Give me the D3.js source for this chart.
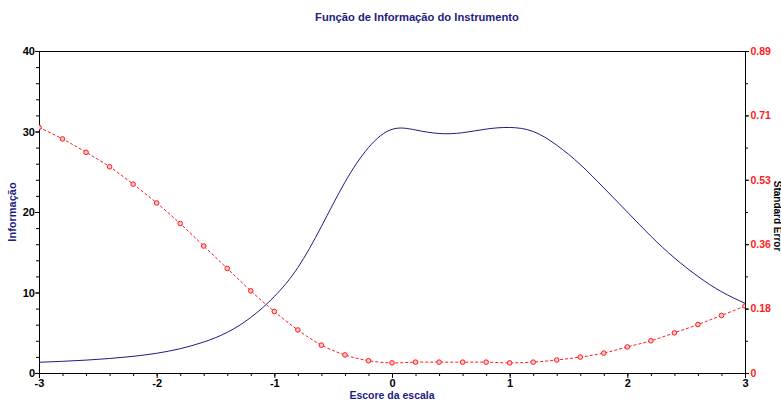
<!DOCTYPE html>
<html>
<head>
<meta charset="utf-8">
<script src="https://cdn.jsdelivr.net/npm/d3@7"></script>
<style>
  html, body { margin: 0; padding: 0; background: #fff; }
  svg { display: block; font-family: "Liberation Sans", Arial, sans-serif; }
</style>
</head>
<body>
<svg id="chart" width="781" height="402"></svg>
<script>
// Escore (theta) grid, step 0.2
const theta = [-3.0, -2.8, -2.6, -2.4, -2.2, -2.0, -1.8, -1.6, -1.4, -1.2, -1.0,
               -0.8, -0.6, -0.4, -0.2, 0.0, 0.2, 0.4, 0.6, 0.8, 1.0,
               1.2, 1.4, 1.6, 1.8, 2.0, 2.2, 2.4, 2.6, 2.8, 3.0];

// Test information function
const information = [1.33, 1.45, 1.60, 1.80, 2.07, 2.45, 3.02, 3.85, 5.05, 6.90, 9.50,
                     13.1, 18.2, 23.7, 28.0, 30.27, 30.19, 29.75, 29.85, 30.30, 30.50,
                     30.00, 28.30, 25.90, 23.00, 20.00, 17.00, 14.30, 12.00, 10.10, 8.66];

// Standard error of measurement
const standardError = [0.679, 0.647, 0.610, 0.570, 0.522, 0.470, 0.413, 0.351, 0.289, 0.227, 0.170,
                       0.119, 0.077, 0.050, 0.034, 0.028, 0.030, 0.030, 0.030, 0.030, 0.028,
                       0.030, 0.036, 0.044, 0.055, 0.072, 0.089, 0.111, 0.134, 0.159, 0.185];

// Axis ticks
const xTicks = [-3, -2, -1, 0, 1, 2, 3];
const xMinorTicks = d3.range(-30, 31, 2).map(v => v / 10);
const infoTicks = [0, 10, 20, 30, 40];
const infoMinorTicks = d3.range(0, 41, 2);
const seTicks = [0, 0.178, 0.356, 0.534, 0.712, 0.89];
const seMinorTicks = d3.range(0, 11).map(k => k * 0.089);

const svg = d3.select("#chart");
const plotLeft = 39, plotRight = 745, plotTop = 51, plotBottom = 373;

const x = d3.scaleLinear().domain([-3, 3]).range([plotLeft, plotRight]);
const yInfo = d3.scaleLinear().domain([0, 40]).range([plotBottom, plotTop]);
const ySE = d3.scaleLinear().domain([0, 0.89]).range([plotBottom, plotTop]);

const navy = "#1c1c86";
const red = "#ff1a1a";

// Title
svg.append("text")
  .attr("x", 417).attr("y", 21)
  .attr("text-anchor", "middle")
  .attr("font-size", 11.2).attr("font-weight", "bold")
  .attr("fill", navy)
  .text("Função de Informação do Instrumento");

// Clip region for the plotted series
svg.append("clipPath").attr("id", "plot-clip")
  .append("rect")
  .attr("x", plotLeft).attr("y", plotTop)
  .attr("width", plotRight - plotLeft).attr("height", plotBottom - plotTop);

// Frame
svg.append("rect")
  .attr("x", plotLeft + 0.5).attr("y", plotTop + 0.5)
  .attr("width", plotRight - plotLeft).attr("height", plotBottom - plotTop)
  .attr("fill", "none").attr("stroke", "#000").attr("stroke-width", 1);

function styleAxis(g, color, size) {
  g.select(".domain").attr("stroke", "#000");
  g.selectAll(".tick line").attr("stroke", "#000");
  g.selectAll(".tick text")
    .attr("fill", color)
    .attr("font-size", size)
    .attr("font-weight", "bold")
    .attr("font-family", "Liberation Sans, Arial, sans-serif");
}

// Bottom axis
svg.append("g").attr("transform", `translate(0,${plotBottom})`)
  .call(d3.axisBottom(x).tickValues(xMinorTicks).tickSize(3).tickSizeOuter(0).tickFormat(""))
  .call(g => styleAxis(g, "#000", 11));
svg.append("g").attr("transform", `translate(0,${plotBottom})`)
  .call(d3.axisBottom(x).tickValues(xTicks).tickSize(5).tickSizeOuter(0).tickPadding(1)
        .tickFormat(d => String(d)))
  .call(g => styleAxis(g, "#000", 11));

// Left axis (information)
svg.append("g").attr("transform", `translate(${plotLeft},0)`)
  .call(d3.axisLeft(yInfo).tickValues(infoMinorTicks).tickSize(3).tickSizeOuter(0).tickFormat(""))
  .call(g => styleAxis(g, "#000", 11));
svg.append("g").attr("transform", `translate(${plotLeft},0)`)
  .call(d3.axisLeft(yInfo).tickValues(infoTicks).tickSize(4).tickSizeOuter(0).tickPadding(0))
  .call(g => styleAxis(g, "#000", 11));

// Right axis (standard error)
svg.append("g").attr("transform", `translate(${plotRight},0)`)
  .call(d3.axisRight(ySE).tickValues(seMinorTicks).tickSize(3).tickSizeOuter(0).tickFormat(""))
  .call(g => styleAxis(g, red, 10.5));
svg.append("g").attr("transform", `translate(${plotRight},0)`)
  .call(d3.axisRight(ySE).tickValues(seTicks).tickSize(4).tickSizeOuter(0).tickPadding(1.5)
        .tickFormat(d => d === 0 ? "0" : d.toFixed(2)))
  .call(g => styleAxis(g, red, 10.5));

// Axis titles
svg.append("text")
  .attr("transform", `translate(16,212) rotate(-90)`)
  .attr("text-anchor", "middle")
  .attr("font-size", 11).attr("font-weight", "bold")
  .attr("fill", navy)
  .text("Informação");

svg.append("text")
  .attr("transform", `translate(773.5,216) rotate(90)`)
  .attr("text-anchor", "middle")
  .attr("font-size", 10).attr("font-weight", "bold")
  .attr("fill", "#000")
  .text("Standard Error");

svg.append("text")
  .attr("x", 392).attr("y", 399)
  .attr("text-anchor", "middle")
  .attr("font-size", 10.5).attr("font-weight", "bold")
  .attr("fill", navy)
  .text("Escore da escala");

const plot = svg.append("g").attr("clip-path", "url(#plot-clip)");

// Information curve
const infoLine = d3.line()
  .x((d, i) => x(theta[i]))
  .y(d => yInfo(d))
  .curve(d3.curveNatural);
plot.append("path")
  .datum(information)
  .attr("d", infoLine)
  .attr("fill", "none")
  .attr("stroke", navy)
  .attr("stroke-width", 1);

// Standard error curve with markers
const seLine = d3.line()
  .x((d, i) => x(theta[i]))
  .y(d => ySE(d))
  .curve(d3.curveCatmullRom.alpha(0.5));
plot.append("path")
  .datum(standardError)
  .attr("d", seLine)
  .attr("fill", "none")
  .attr("stroke", red)
  .attr("stroke-width", 1)
  .attr("stroke-dasharray", "3,2");

plot.selectAll("circle.se")
  .data(standardError)
  .join("circle")
  .attr("class", "se")
  .attr("cx", (d, i) => x(theta[i]))
  .attr("cy", d => ySE(d))
  .attr("r", 2.3)
  .attr("fill", "#ffc8c8")
  .attr("stroke", red)
  .attr("stroke-width", 1);
</script>
</body>
</html>
